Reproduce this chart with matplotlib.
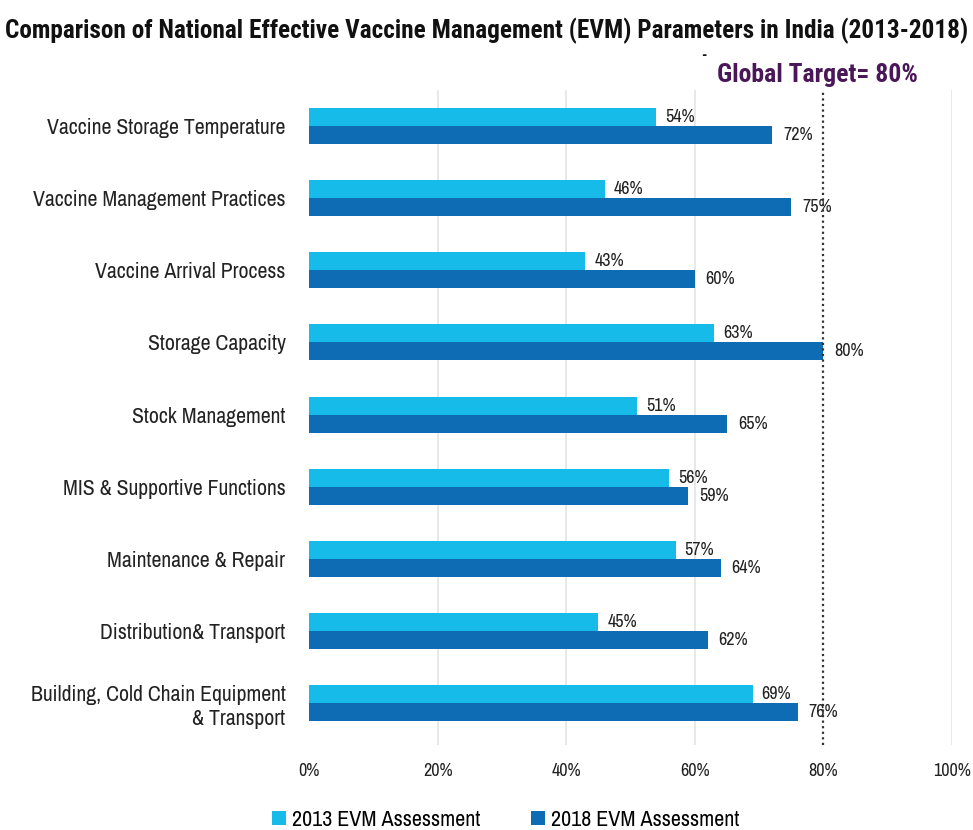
import matplotlib
matplotlib.use("Agg")
import matplotlib.pyplot as plt
import numpy as np
from matplotlib import font_manager

names = {f.name for f in font_manager.fontManager.ttflist}
def pick(cands, default='DejaVu Sans'):
    for c in cands:
        if c in names:
            return c
    return default

body = pick(['Archivo Narrow', 'Roboto Condensed', 'Barlow Semi Condensed', 'Liberation Sans Narrow', 'Roboto'])
bold = pick(['Roboto Condensed', 'Barlow Semi Condensed', 'Archivo Narrow', 'Roboto'])
plt.rcParams['font.family'] = [body, 'DejaVu Sans']

categories = ["Vaccine Storage Temperature", "Vaccine Management Practices",
              "Vaccine Arrival Process", "Storage Capacity", "Stock Management",
              "MIS & Supportive Functions", "Maintenance & Repair",
              "Distribution& Transport", "Building, Cold Chain Equipment\n& Transport"]
evm_2013 = [54, 46, 43, 63, 51, 56, 57, 45, 69]
evm_2018 = [72, 75, 60, 80, 65, 59, 64, 62, 76]
series_names = ["2013 EVM Assessment", "2018 EVM Assessment"]
xticks = [0, 20, 40, 60, 80, 100]
target = 80

c13 = '#16bbea'
c18 = '#0e6cb5'

fig = plt.figure(figsize=(9.73, 8.30), dpi=100)
ax = fig.add_axes([0.3176, 0.1024, 0.6608, 0.7892])

y = np.arange(len(categories))
h = 0.25
ax.barh(y - h/2, evm_2013, height=h, color=c13, label=series_names[0], zorder=3)
ax.barh(y + h/2, evm_2018, height=h, color=c18, label=series_names[1], zorder=3)

for i, (a, b) in enumerate(zip(evm_2013, evm_2018)):
    ax.text(a + 1.4, i - h/2, f"{a}%", va='center', ha='left', fontsize=13, color='#222222', zorder=4)
    ax.text(b + 1.7, i + h/2, f"{b}%", va='center', ha='left', fontsize=13, color='#222222', zorder=4)

ax.set_xlim(0, 100)
ax.set_ylim(8.58, -0.5)
ax.set_yticks(y)
ax.set_yticklabels(categories, fontsize=15.7, color='#222222', linespacing=1.25)
ax.set_xticks(xticks)
ax.set_xticklabels([f"{t}%" for t in xticks], fontsize=13, color='#222222')
ax.tick_params(axis='both', length=0)
ax.tick_params(axis='x', pad=13)
ax.tick_params(axis='y', pad=17)
for s in ax.spines.values():
    s.set_visible(False)
for t in xticks:
    if t not in (0, target):
        ax.axvline(t, color='#e4e4e4', lw=1.2, zorder=1)
ax.axvline(target, color='#333333', lw=1.6, ls=(0, (1, 1.5)), zorder=5)

fig.text(0.5, 0.963, "Comparison of National Effective Vaccine Management (EVM) Parameters in India (2013-2018)",
         ha='center', va='center', fontsize=18.2, fontweight='bold', color='#111111', family=[bold, 'DejaVu Sans'])
fig.text(0.7235, 0.932, "-", ha='center', va='center', fontsize=11, fontweight='bold', color='#111111',
         family=[bold, 'DejaVu Sans'])
fig.text(0.737, 0.91, "Global Target= 80%", ha='left', va='center', fontsize=18.5,
         fontweight='bold', color='#4a1858', family=[bold, 'DejaVu Sans'])

leg = fig.legend(loc='center', bbox_to_anchor=(0.52, 0.012), ncol=2, frameon=False,
                 fontsize=15.9, handlelength=0.6, handleheight=0.6, handletextpad=0.3,
                 columnspacing=2.3)
fig.savefig("out.png", dpi=100)
